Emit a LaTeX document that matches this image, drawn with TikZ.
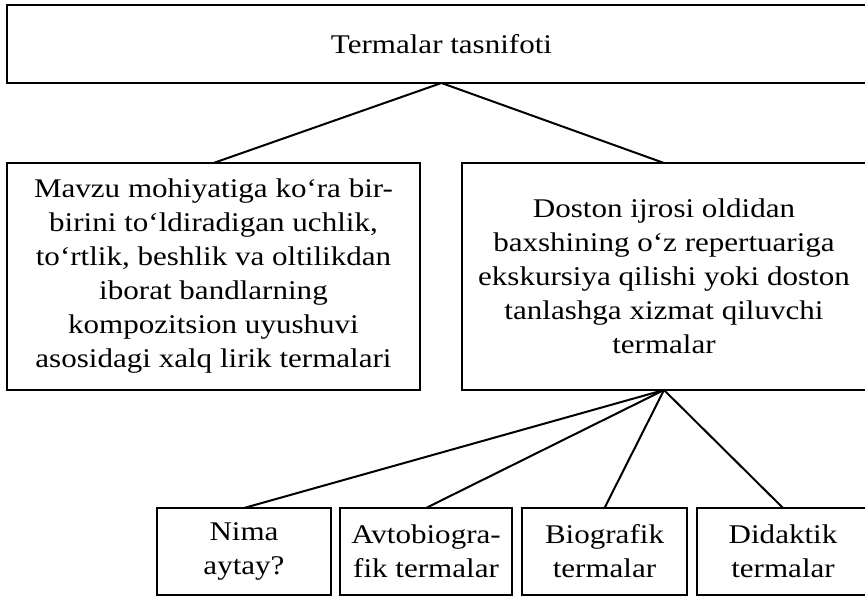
\documentclass[tikz,border=0pt]{standalone}
\usepackage{fontspec}
\setmainfont{Liberation Serif}[FakeStretch=1.15]
\usepackage{tikz}
\usetikzlibrary{positioning}

\begin{document}
\begin{tikzpicture}[x=1bp, y=1bp, line width=2bp, every node/.style={font=\fontsize{27bp}{34bp}\selectfont}]
\tikzstyle{box}=[draw, align=center, inner sep=2bp, outer sep=0pt]
\useasboundingbox (0,0) rectangle (865,-599);
\fill[white] (0,0) rectangle (865,-599);
\clip (0,0) rectangle (865,-599);
\node[box, minimum width=869bp, minimum height=78bp] (title) at (441.5,-44) {Termalar tasnifoti};
\node[box, below right=80bp and 0bp of title.south west, minimum width=413bp, minimum height=227bp] (lyric) {Mavzu mohiyatiga ko‘ra bir-\\birini to‘ldiradigan uchlik,\\to‘rtlik, beshlik va oltilikdan\\iborat bandlarning\\kompozitsion uyushuvi\\asosidagi xalq lirik termalari};
\node[box, right=42bp of lyric, minimum width=404bp, minimum height=227bp] (doston) {Doston ijrosi oldidan\\baxshining o‘z repertuariga\\ekskursiya qilishi yoki doston\\tanlashga xizmat qiluvchi\\termalar};
\node[box, anchor=north west, minimum width=174bp, minimum height=87bp] (nima) at (157,-508) {Nima\\aytay?};
\node[box, right=9bp of nima, minimum width=172bp, minimum height=87bp] (avto) {Avtobiogra-\\fik termalar};
\node[box, right=10bp of avto, minimum width=165bp, minimum height=87bp] (bio) {Biografik\\termalar};
\node[box, right=10bp of bio, minimum width=172bp, minimum height=87bp] (didak) {Didaktik\\termalar};
\draw (title.south) -- (lyric.north);
\draw (title.south) -- (doston.north);
\draw (doston.south) -- (nima.north);
\draw (doston.south) -- (avto.north);
\draw (doston.south) -- (bio.north);
\draw (doston.south) -- (didak.north);
\end{tikzpicture}
\end{document}
